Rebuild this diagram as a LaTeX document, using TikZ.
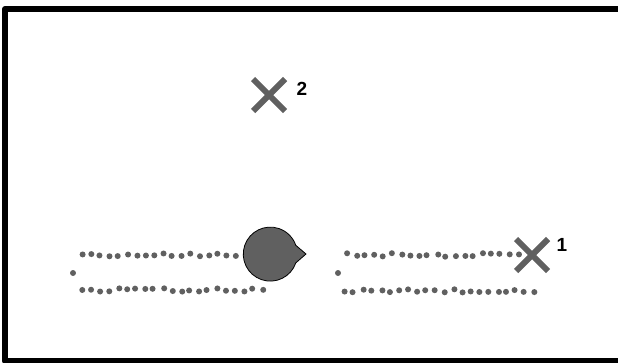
\documentclass[tikz,border=0pt]{standalone}
\usepackage{fontspec}
\setsansfont{Liberation Sans}
\usetikzlibrary{shapes.misc}
\definecolor{robotgray}{HTML}{606060}
\tikzset{
  trail/.style={fill=robotgray},
  goal/.style={cross out, draw=robotgray, line width=6pt, minimum size=32pt, inner sep=0pt, outer sep=0pt},
  num/.style={font=\sffamily\bfseries\fontsize{19}{19}\selectfont, inner sep=0pt},
}
\begin{document}
\begin{tikzpicture}[x=1pt, y=-1pt]
  \useasboundingbox (0,0) rectangle (618,362);
  % arena frame
  \draw[line width=6pt, line join=round] (5,9) rectangle (660,361);

  % dotted trails
  \pgfmathsetseed{11}
  \foreach \x in {82,91,...,240} \fill[trail] (\x+rand*1.5, 255+rand*1.8) circle (3pt);
  \foreach \x in {82,91,...,270} \fill[trail] (\x+rand*1.5, 290+rand*1.8) circle (3pt);
  \fill[trail] (73,273) circle (3pt);
  \foreach \x in {347,356,...,520} \fill[trail] (\x+rand*1.5, 255+rand*1.8) circle (3pt);
  \foreach \x in {345,354,...,537} \fill[trail] (\x+rand*1.5, 291+rand*1.8) circle (3pt);
  \fill[trail] (338,273) circle (3pt);

  % robot
  \filldraw[fill=robotgray, draw=black, line width=0.8pt, line join=round]
    (306,254) -- (295.8,262.9) arc[start angle=19, end angle=341, radius=27] -- cycle;

  % goals
  \node[goal] (g1) at (532,255) {};
  \node[num] (n1) at (562,245) {1};
  \node[goal] (g2) at (269,95) {};
  \node[num] (n2) at (302,89) {2};
\end{tikzpicture}
\end{document}
